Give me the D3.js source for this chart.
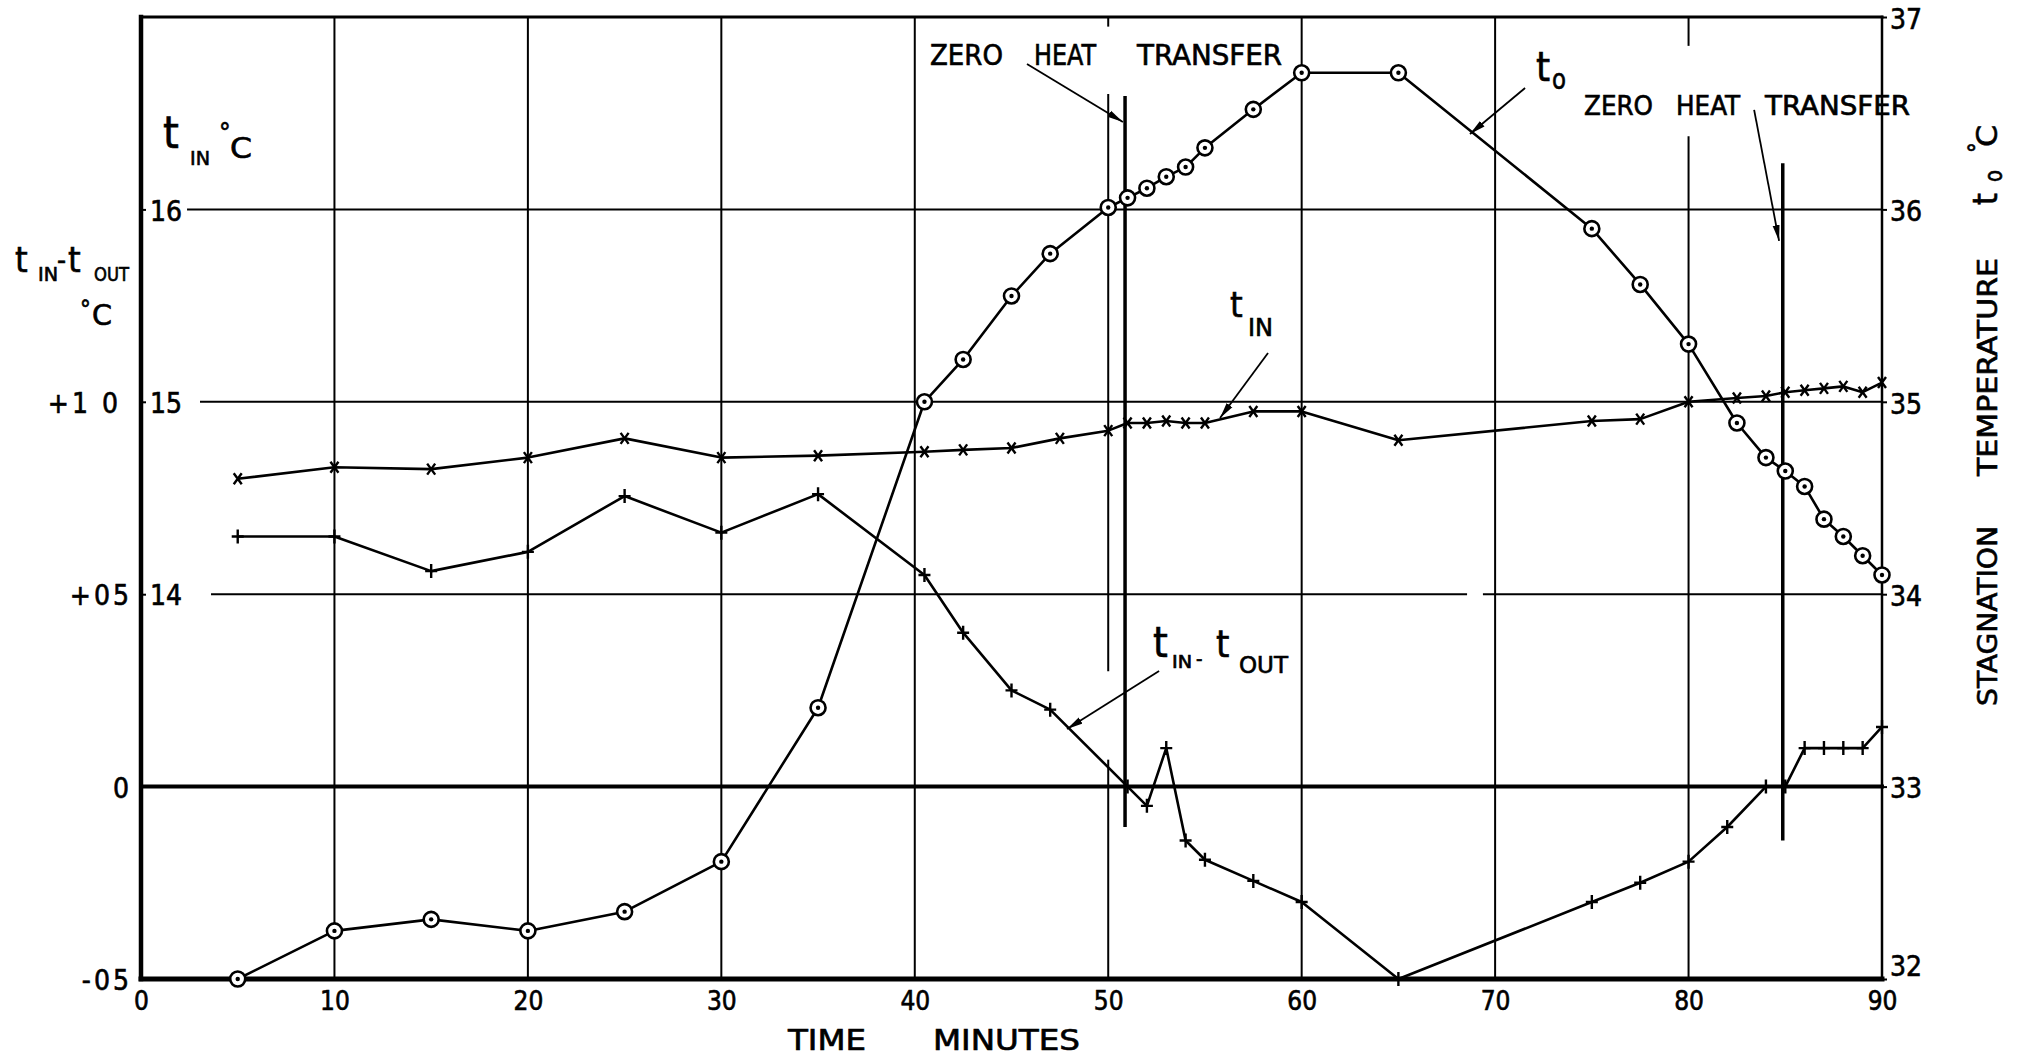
<!DOCTYPE html>
<html>
<head>
<meta charset="utf-8">
<script src="https://cdn.jsdelivr.net/npm/d3@7"></script>
<style>
body { margin: 0; background: #fff; }
svg { display: block; background: #fff; }
text { font-family: "DejaVu Sans Condensed", "DejaVu Sans", sans-serif; fill: #000; stroke: #000; stroke-width: 0.6px; }
</style>
</head>
<body>
<script>
// ---- data ----
var xTicks = [0, 10, 20, 30, 40, 50, 60, 70, 80, 90];
var toTicks = [32, 33, 34, 35, 36, 37];
var tinTicks = [14, 15, 16];
var diffTicks = [-0.5, 0, 0.5, 1.0];
var diffTickLabels = ["-05", "0", "+05", "+1 0"];

// stagnation temperature t0 (circles), right axis
var toTime = [5, 10, 15, 20, 25, 30, 35, 40.5, 42.5, 45, 47, 50, 51, 52, 53, 54, 55, 57.5, 60, 65, 75, 77.5, 80, 82.5, 84, 85, 86, 87, 88, 89, 90];
var toVal = [32.0, 32.25, 32.31, 32.25, 32.35, 32.61, 33.41, 35.0, 35.22, 35.55, 35.77, 36.01, 36.06, 36.11, 36.17, 36.22, 36.32, 36.52, 36.71, 36.71, 35.9, 35.61, 35.30, 34.89, 34.71, 34.64, 34.56, 34.39, 34.30, 34.20, 34.10];

// inlet temperature tIN (x marks)
var tinTime = [5, 10, 15, 20, 25, 30, 35, 40.5, 42.5, 45, 47.5, 50, 51, 52, 53, 54, 55, 57.5, 60, 65, 75, 77.5, 80, 82.5, 84, 85, 86, 87, 88, 89, 90];
var tinVal = [14.60, 14.66, 14.65, 14.71, 14.81, 14.71, 14.72, 14.74, 14.75, 14.76, 14.81, 14.85, 14.89, 14.89, 14.90, 14.89, 14.89, 14.95, 14.95, 14.80, 14.90, 14.91, 15.0, 15.02, 15.03, 15.05, 15.06, 15.07, 15.08, 15.05, 15.10];

// tIN - tOUT (plus marks)
var diffTime = [5, 10, 15, 20, 25, 30, 35, 40.5, 42.5, 45, 47, 51, 52, 53, 54, 55, 57.5, 60, 65, 75, 77.5, 80, 82, 84, 85, 86, 87, 88, 89, 90];
var diffVal = [0.65, 0.65, 0.56, 0.61, 0.755, 0.66, 0.76, 0.55, 0.40, 0.25, 0.20, 0.0, -0.05, 0.10, -0.14, -0.19, -0.245, -0.30, -0.50, -0.30, -0.25, -0.195, -0.105, 0.0, 0.0, 0.10, 0.10, 0.10, 0.10, 0.155];

// zero heat transfer instants (minutes)
var zeroHeatTime = [50.87, 84.87];

// ---- layout ----
var W = 2019, H = 1058;

var x = d3.scaleLinear().domain([0, 90]).range([141, 1882]);
var yTo = d3.scaleLinear().domain([32, 37]).range([979, 17]);
var yIn = d3.scaleLinear().domain([12, 17]).range([979, 17]);
var yDiff = d3.scaleLinear().domain([-0.5, 2.0]).range([979, 17]);

var svg = d3.select("body").append("svg")
    .attr("width", W)
    .attr("height", H);

function segments(lo, hi, gaps) {
    var segs = [], start = lo;
    (gaps || []).forEach(function(g) { segs.push([start, g[0]]); start = g[1]; });
    segs.push([start, hi]);
    return segs;
}

// grid
var grid = svg.append("g").attr("stroke", "#000").attr("stroke-width", 2);

var vGaps = {50: [[33.14, 33.6], [36.6, 36.95]], 80: [[36.38, 36.85]]};
[10, 20, 30, 40, 50, 60, 70, 80].forEach(function(t) {
    segments(32, 37, vGaps[t]).forEach(function(s) {
        grid.append("line")
            .attr("x1", x(t)).attr("x2", x(t))
            .attr("y1", yTo(s[0])).attr("y2", yTo(s[1]));
    });
});

// horizontal lines start just right of the tIN labels
var hStart = {34: 3.62, 35: 3.05, 36: 2.38};
var hGaps = {34: [[68.55, 69.37]]};
[34, 35, 36].forEach(function(v) {
    segments(hStart[v], 90, hGaps[v]).forEach(function(s) {
        grid.append("line")
            .attr("x1", x(s[0])).attr("x2", x(s[1]))
            .attr("y1", yTo(v)).attr("y2", yTo(v));
    });
});

// frame
var frame = svg.append("g").attr("stroke", "#000").attr("stroke-linecap", "square");
frame.append("line").attr("x1", x(0)).attr("x2", x(90)).attr("y1", yTo(37)).attr("y2", yTo(37)).attr("stroke-width", 3);
frame.append("line").attr("x1", x(90)).attr("x2", x(90)).attr("y1", yTo(37)).attr("y2", yTo(32)).attr("stroke-width", 2.5);
frame.append("line").attr("x1", x(0)).attr("x2", x(90)).attr("y1", yDiff(0)).attr("y2", yDiff(0)).attr("stroke-width", 4);
frame.append("line").attr("x1", x(0)).attr("x2", x(0)).attr("y1", yTo(37)).attr("y2", yTo(32)).attr("stroke-width", 4.5);
frame.append("line").attr("x1", x(0)).attr("x2", x(90)).attr("y1", yTo(32)).attr("y2", yTo(32)).attr("stroke-width", 5);

// axes (labels only)
function styleAxis(g, size) {
    g.attr("font-family", null).attr("font-size", size);
    g.select(".domain").remove();
    g.selectAll(".tick line").attr("stroke-width", 2);
}

svg.append("g")
    .attr("transform", "translate(0," + yTo(32) + ")")
    .call(d3.axisBottom(x).tickValues(xTicks).tickSize(0).tickPadding(13).tickFormat(d3.format("d")))
    .call(styleAxis, 26);

var rightAxis = svg.append("g")
    .attr("transform", "translate(" + x(90) + ",0)")
    .call(d3.axisRight(yTo).tickValues(toTicks).tickSize(5).tickPadding(3).tickFormat(d3.format("d")))
    .call(styleAxis, 28);
rightAxis.selectAll(".tick text").attr("dy", function(d) { return d === 32 ? "-0.11em" : "0.4em"; });

svg.append("g")
    .attr("transform", "translate(" + x(0) + ",0)")
    .call(d3.axisRight(yIn).tickValues(tinTicks).tickSize(5).tickPadding(4).tickFormat(d3.format("d")))
    .call(styleAxis, 28)
    .selectAll(".tick text").attr("dy", "0.38em");

svg.append("g")
    .attr("transform", "translate(" + x(0) + ",0)")
    .call(d3.axisLeft(yDiff).tickValues(diffTicks).tickSize(0).tickPadding(9)
        .tickFormat(function(d, i) { return diffTickLabels[i]; }))
    .call(styleAxis, 28)
    .selectAll(".tick text")
    .attr("letter-spacing", 3)
    .attr("dx", function(d) { return d === 1.0 ? -11 : 0; })
    .attr("dy", "0.38em");

// zero heat transfer markers
svg.append("g").attr("stroke", "#000").attr("stroke-width", 3.5)
    .selectAll("line")
    .data(zeroHeatTime)
    .join("line")
    .attr("x1", function(d) { return x(d); })
    .attr("x2", function(d) { return x(d); })
    .attr("y1", function(d, i) { return yTo(i === 0 ? 36.59 : 36.24); })
    .attr("y2", function(d, i) { return yTo(i === 0 ? 32.79 : 32.72); });

// series lines
function drawLine(times, vals, y) {
    svg.append("path")
        .datum(d3.zip(times, vals))
        .attr("fill", "none")
        .attr("stroke", "#000")
        .attr("stroke-width", 2.6)
        .attr("stroke-linejoin", "round")
        .attr("d", d3.line().x(function(d) { return x(d[0]); }).y(function(d) { return y(d[1]); }));
}
drawLine(tinTime, tinVal, yIn);
drawLine(diffTime, diffVal, yDiff);
drawLine(toTime, toVal, yTo);

// markers
svg.append("g").attr("stroke", "#000").attr("stroke-width", 2.4).attr("fill", "none")
    .selectAll("path")
    .data(d3.zip(tinTime, tinVal))
    .join("path")
    .attr("transform", function(d) { return "translate(" + x(d[0]) + "," + yIn(d[1]) + ")"; })
    .attr("d", "M-4,-5.5L4,5.5M-4,5.5L4,-5.5");

svg.append("g").attr("stroke", "#000").attr("stroke-width", 2.4).attr("fill", "none")
    .selectAll("path")
    .data(d3.zip(diffTime, diffVal))
    .join("path")
    .attr("transform", function(d) { return "translate(" + x(d[0]) + "," + yDiff(d[1]) + ")"; })
    .attr("d", "M0,-7L0,7M-6,0L6,0");

var circ = svg.append("g")
    .selectAll("g")
    .data(d3.zip(toTime, toVal))
    .join("g")
    .attr("transform", function(d) { return "translate(" + x(d[0]) + "," + yTo(d[1]) + ")"; });
circ.append("circle").attr("r", 7.5).attr("fill", "#fff").attr("stroke", "#000").attr("stroke-width", 2.6);
circ.append("circle").attr("r", 2.2).attr("fill", "#000");

// arrows
svg.append("defs").append("marker")
    .attr("id", "head")
    .attr("markerUnits", "userSpaceOnUse")
    .attr("markerWidth", 18).attr("markerHeight", 10)
    .attr("refX", 16).attr("refY", 4)
    .attr("orient", "auto")
    .append("path")
    .attr("d", "M0,0.5L16,4L0,7.5Z")
    .attr("fill", "#000");

var arrows = [
    [[45.8, 36.756], [50.76, 36.454]],
    [[83.39, 36.517], [84.68, 35.836]],
    [[71.55, 36.631], [68.70, 36.392]],
    [[58.26, 35.254], [55.78, 34.916]],
    [[52.63, 33.601], [47.87, 33.299]]
];
svg.append("g").attr("stroke", "#000").attr("stroke-width", 1.8)
    .selectAll("line")
    .data(arrows)
    .join("line")
    .attr("x1", function(d) { return x(d[0][0]); })
    .attr("y1", function(d) { return yTo(d[0][1]); })
    .attr("x2", function(d) { return x(d[1][0]); })
    .attr("y2", function(d) { return yTo(d[1][1]); })
    .attr("marker-end", "url(#head)");

// text helper
function txt(parent, px, py, s, size, len) {
    var t = parent.append("text")
        .attr("x", px).attr("y", py)
        .attr("font-size", size)
        .text(s);
    if (len) t.attr("textLength", len).attr("lengthAdjust", "spacingAndGlyphs");
    return t;
}

var lab = svg.append("g");

// left axis titles
txt(lab, 163, 148, "t", 45);
txt(lab, 190, 165, "IN", 20, 20);
txt(lab, 219, 142, "°", 26);
txt(lab, 230, 158, "C", 28, 22);

txt(lab, 15, 272, "t", 36);
txt(lab, 38, 281, "IN", 19, 20);
txt(lab, 57, 270, "-", 28);
txt(lab, 68, 272, "t", 36);
txt(lab, 94, 281, "OUT", 19, 35);
txt(lab, 80, 318, "°", 24);
txt(lab, 92, 325, "C", 28, 20);

// curve labels
txt(lab, 1536, 81, "t", 40);
txt(lab, 1552, 89, "o", 28, 14);

txt(lab, 1230, 317, "t", 36);
txt(lab, 1248, 336, "IN", 24, 25);

txt(lab, 1153, 657, "t", 42);
txt(lab, 1172, 668, "IN", 17, 20);
txt(lab, 1196, 666, "-", 20);
txt(lab, 1216, 657, "t", 38);
txt(lab, 1239, 673, "OUT", 23, 49);

// zero heat transfer notes
txt(lab, 930, 65, "ZERO", 28, 73);
txt(lab, 1034, 65, "HEAT", 28, 62);
txt(lab, 1137, 65, "TRANSFER", 28, 145);

txt(lab, 1584, 115, "ZERO", 26, 69);
txt(lab, 1676, 115, "HEAT", 26, 64);
txt(lab, 1765, 115, "TRANSFER", 26, 145);

// x title
txt(lab, 788, 1050, "TIME", 28, 78);
txt(lab, 933, 1050, "MINUTES", 28, 147);

// right title (rotated, reads bottom to top)
var rt = svg.append("g").attr("transform", "translate(1997,0) rotate(-90)");
txt(rt, -706, 0, "STAGNATION", 27, 180);
txt(rt, -476, 0, "TEMPERATURE", 27, 218);
txt(rt, -205, 0, "t", 34);
txt(rt, -182, 5, "o", 24, 12);
txt(rt, -153, -11, "°", 24);
txt(rt, -147, 0, "C", 28, 22);
</script>
</body>
</html>
